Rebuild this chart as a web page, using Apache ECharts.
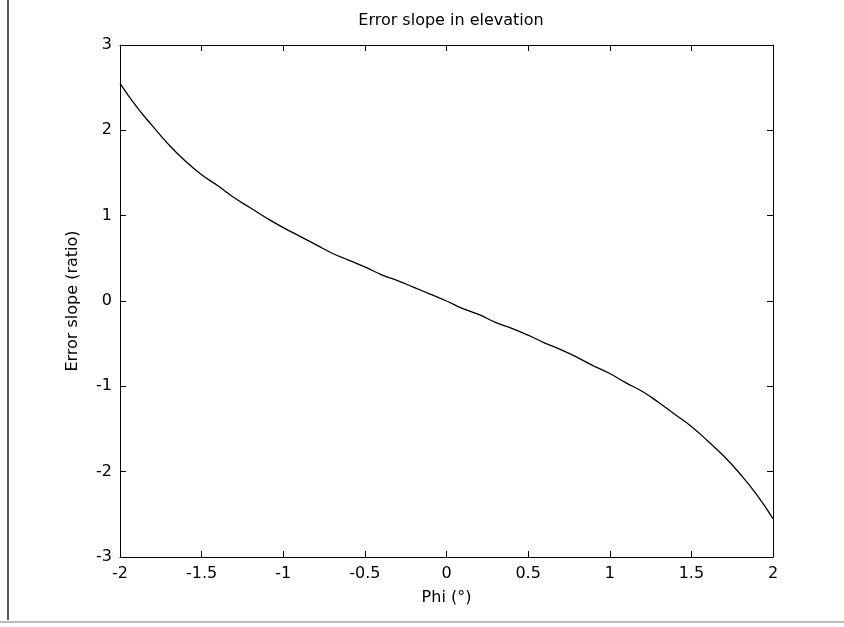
<!DOCTYPE html>
<html>
<head>
<meta charset="utf-8">
<script src="https://cdn.jsdelivr.net/npm/echarts@6/dist/echarts.min.js"></script>
<style>html,body{margin:0;padding:0;background:#fff;}#c{width:844px;height:627px;}</style>
</head>
<body>
<div id="c"></div>
<script>
const phi = [-2.0,-1.9,-1.8,-1.7,-1.6,-1.5,-1.4,-1.3,-1.2,-1.1,-1.0,-0.9,-0.8,-0.7,-0.6,-0.5,-0.4,-0.3,-0.2,-0.1,0.0,0.1,0.2,0.3,0.4,0.5,0.6,0.7,0.8,0.9,1.0,1.1,1.2,1.3,1.4,1.5,1.6,1.7,1.8,1.9,2.0];
const errorSlope = [2.55,2.28,2.05,1.83,1.64,1.48,1.35,1.21,1.09,0.97,0.86,0.76,0.66,0.56,0.48,0.40,0.31,0.24,0.16,0.08,0.0,-0.09,-0.16,-0.25,-0.32,-0.40,-0.49,-0.57,-0.66,-0.76,-0.85,-0.96,-1.06,-1.19,-1.33,-1.47,-1.64,-1.82,-2.03,-2.27,-2.55];
const titleText = 'Error slope in elevation';
const xName = 'Phi (°)';
const yName = 'Error slope (ratio)';

const font = '"DejaVu Sans", "Liberation Sans", Arial, sans-serif';
const chart = echarts.init(document.getElementById('c'), null, {renderer: 'canvas'});
const axisLine = {show: true, onZero: false, lineStyle: {color: '#000', width: 1}};
const tick = {show: true, inside: true, length: 6, lineStyle: {color: '#000', width: 1}};
chart.setOption({
  animation: false,
  backgroundColor: '#fff',
  title: {text: titleText, left: 446, textAlign: 'center', top: 8, textStyle: {fontFamily: font, fontSize: 16, fontWeight: 'normal', color: '#000'}},
  grid: {left: 120, right: 71, top: 45, bottom: 70, containLabel: false},
  xAxis: [
    {type: 'value', min: -2, max: 2, interval: 0.5, position: 'bottom',
     axisLine, axisTick: tick, splitLine: {show: false},
     axisLabel: {fontFamily: font, fontSize: 16, color: '#000', margin: 9, formatter: v => String(v)},
     name: xName, nameLocation: 'middle', nameGap: 33,
     nameTextStyle: {fontFamily: font, fontSize: 16, color: '#000'}},
    {type: 'value', min: -2, max: 2, interval: 0.5, position: 'top',
     axisLine, axisTick: tick, axisLabel: {show: false}, splitLine: {show: false}}
  ],
  yAxis: [
    {type: 'value', min: -3, max: 3, interval: 1, position: 'left',
     axisLine, axisTick: tick, splitLine: {show: false},
     axisLabel: {fontFamily: font, fontSize: 16, color: '#000', margin: 8},
     name: yName, nameLocation: 'middle', nameGap: 39,
     nameTextStyle: {fontFamily: font, fontSize: 16, color: '#000'}},
    {type: 'value', min: -3, max: 3, interval: 1, position: 'right',
     axisLine, axisTick: tick, axisLabel: {show: false}, splitLine: {show: false}}
  ],
  series: [{
    type: 'line', data: phi.map((x, i) => [x, errorSlope[i]]),
    showSymbol: false, smooth: true, lineStyle: {color: '#000', width: 1.3}
  }],
  graphic: [
    {type: 'line', shape: {x1: 8, y1: 0, x2: 8, y2: 620}, style: {stroke: '#222', lineWidth: 1.5}},
    {type: 'line', shape: {x1: 0, y1: 622, x2: 844, y2: 622}, style: {stroke: '#bbb', lineWidth: 2}}
  ]
});
</script>
</body>
</html>
